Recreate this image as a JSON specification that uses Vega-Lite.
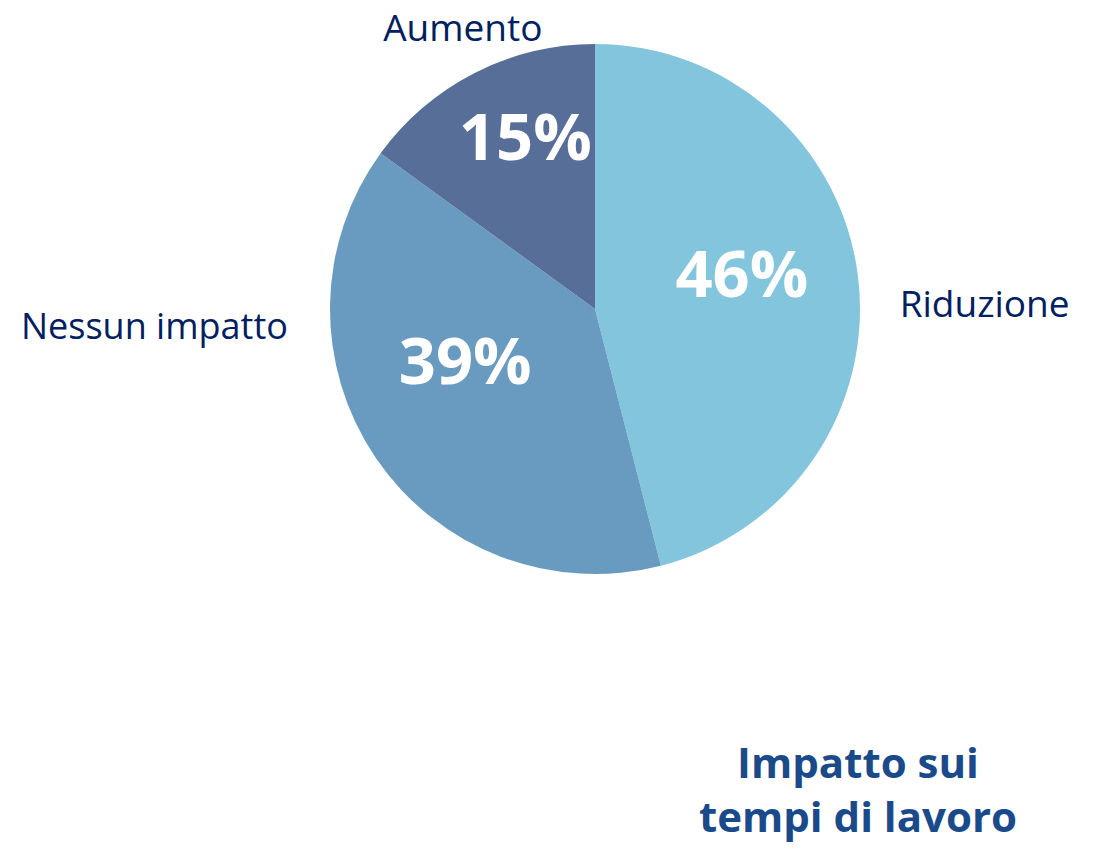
{
  "$schema": "https://vega.github.io/schema/vega-lite/v6.json",
  "autosize": {"type": "none"},
  "width": 530,
  "height": 530,
  "padding": {"left": 330, "top": 44, "right": 237, "bottom": 274},
  "background": "white",
  "view": {"stroke": null},
  "config": {"font": "Open Sans"},
  "title": {
    "text": ["Impatto sui", "tempi di lavoro"],
    "orient": "bottom",
    "anchor": "end",
    "frame": "group",
    "align": "center",
    "baseline": "top",
    "offset": 171,
    "dx": -2,
    "fontSize": 42,
    "font": "Open Sans",
    "fontWeight": "bold",
    "color": "#1B4A8A",
    "lineHeight": 54
  },
  "data": {
    "values": [
      {"categoria": "Riduzione", "valore": 46, "percentuale": "46%", "ordine": 1},
      {"categoria": "Nessun impatto", "valore": 39, "percentuale": "39%", "ordine": 2},
      {"categoria": "Aumento", "valore": 15, "percentuale": "15%", "ordine": 3}
    ]
  },
  "encoding": {
    "theta": {"field": "valore", "type": "quantitative", "stack": true},
    "order": {"field": "ordine", "type": "quantitative"}
  },
  "layer": [
    {
      "mark": {"type": "arc", "outerRadius": 265},
      "encoding": {
        "color": {
          "field": "categoria",
          "type": "nominal",
          "scale": {"domain": ["Riduzione", "Nessun impatto", "Aumento"], "range": ["#83C5DD", "#689BBF", "#566E98"]},
          "legend": null
        }
      }
    },
    {
      "mark": {"type": "text", "radius": 150, "dx": -2, "dy": -13, "fontSize": 65, "fontWeight": "bold", "color": "white", "align": "center", "baseline": "middle"},
      "encoding": {"text": {"condition": {"test": "datum.categoria === 'Riduzione'", "field": "percentuale"}, "value": ""}}
    },
    {
      "mark": {"type": "text", "radius": 140, "dx": -14, "dy": -24, "fontSize": 65, "fontWeight": "bold", "color": "white", "align": "center", "baseline": "middle"},
      "encoding": {"text": {"condition": {"test": "datum.categoria === 'Nessun impatto'", "field": "percentuale"}, "value": ""}}
    },
    {
      "mark": {"type": "text", "radius": 180, "dx": 12, "dy": -9, "fontSize": 65, "fontWeight": "bold", "color": "white", "align": "center", "baseline": "middle"},
      "encoding": {"text": {"condition": {"test": "datum.categoria === 'Aumento'", "field": "percentuale"}, "value": ""}}
    },
    {
      "mark": {"type": "text", "radius": 300, "dx": 7, "dy": 46, "fontSize": 37, "color": "#002060", "align": "left", "baseline": "alphabetic"},
      "encoding": {"text": {"condition": {"test": "datum.categoria === 'Riduzione'", "field": "categoria"}, "value": ""}}
    },
    {
      "mark": {"type": "text", "radius": 300, "dx": -59, "dy": -139, "fontSize": 36, "color": "#002060", "align": "right", "baseline": "alphabetic"},
      "encoding": {"text": {"condition": {"test": "datum.categoria === 'Nessun impatto'", "field": "categoria"}, "value": ""}}
    },
    {
      "mark": {"type": "text", "radius": 300, "dx": 4, "dy": -1, "fontSize": 37, "color": "#002060", "align": "center", "baseline": "alphabetic"},
      "encoding": {"text": {"condition": {"test": "datum.categoria === 'Aumento'", "field": "categoria"}, "value": ""}}
    }
  ]
}
